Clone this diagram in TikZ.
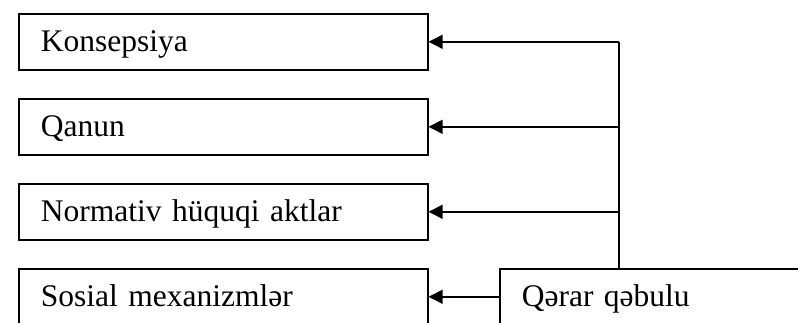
\documentclass[tikz,border=0pt]{standalone}
\usepackage{fontspec}
\setmainfont{Liberation Serif}
\usetikzlibrary{arrows.meta}
\begin{document}
\begin{tikzpicture}[x=1pt,y=-1pt,
  box/.style={draw,line width=1.6pt,anchor=north west,minimum height=56pt,
    text width=365pt,inner xsep=22pt,inner ysep=0pt,align=left,
    text height=24pt,text depth=4pt,font=\fontsize{31.5pt}{33pt}\selectfont},
  qbox/.style={box,text width=365pt},
  link/.style={line width=1.5pt},
  arr/.style={link,-{Triangle[length=14pt,width=14pt]}}]
\clip (0,0) rectangle (798,322);
\node[box] (k) at (18,13) {Konsepsiya};
\node[box] (q) at (18,98) {Qanun};
\node[box] (n) at (18,183) {Normativ hüquqi aktlar};
\node[box] (s) at (18,268) {Sosial mexanizmlər};
\node[qbox] (d) at (499,268) {Qərar qəbulu};
\coordinate (bus) at (619,0);
\draw[link] (d.north -| bus) -- (bus |- k.east);
\draw[arr] (bus |- k.east) -- (k.east);
\draw[arr] (bus |- q.east) -- (q.east);
\draw[arr] (bus |- n.east) -- (n.east);
\draw[arr] (d.west) -- (s.east);
\end{tikzpicture}
\end{document}
